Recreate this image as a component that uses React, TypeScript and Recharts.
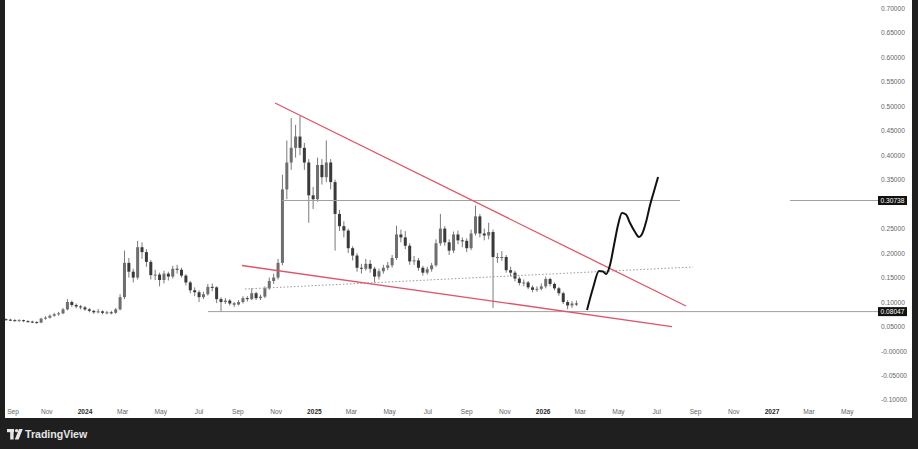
import React from "react";
import {
  Bar,
  ComposedChart,
  Line,
  ReferenceLine,
  XAxis,
  YAxis,
} from "recharts";

// weekly candles, first one opens the week of 2023-08-28
const firstWeek = "2023-08-28";
const firstOpen = 0.065;

const closes = [
  0.064, 0.063, 0.062, 0.063, 0.061, 0.06, 0.059, 0.058, 0.066, 0.068,
  0.072, 0.075, 0.077, 0.085, 0.1, 0.094, 0.091, 0.089, 0.085, 0.082,
  0.079, 0.081, 0.078, 0.079, 0.078, 0.085, 0.11, 0.18, 0.162, 0.15,
  0.212, 0.202, 0.182, 0.155, 0.156, 0.145, 0.158, 0.152, 0.168, 0.166,
  0.154, 0.14, 0.124, 0.12, 0.11, 0.116, 0.131, 0.13, 0.106, 0.1,
  0.103, 0.097, 0.095, 0.1, 0.108, 0.106, 0.118, 0.108, 0.111, 0.128,
  0.143, 0.15, 0.18, 0.33, 0.385, 0.415, 0.438, 0.415, 0.385, 0.318,
  0.31, 0.38, 0.355, 0.385, 0.345, 0.28, 0.255, 0.246, 0.21, 0.195,
  0.17, 0.168, 0.178, 0.168, 0.152, 0.163, 0.17, 0.175, 0.19, 0.238,
  0.232, 0.215, 0.183, 0.185, 0.17, 0.16, 0.167, 0.175, 0.22, 0.25,
  0.222, 0.205, 0.238, 0.226, 0.225, 0.21, 0.24, 0.275, 0.24, 0.236,
  0.243, 0.192, 0.192, 0.192, 0.165, 0.16, 0.148, 0.139, 0.14, 0.13,
  0.125, 0.127, 0.132, 0.147, 0.137, 0.128, 0.118, 0.1, 0.093, 0.097,
  0.096,
];

const highs = [
  0.067, 0.066, 0.065, 0.065, 0.064, 0.063, 0.062, 0.061, 0.068, 0.071,
  0.075, 0.078, 0.08, 0.088, 0.106, 0.103, 0.097, 0.094, 0.092, 0.088,
  0.084, 0.086, 0.083, 0.082, 0.082, 0.088, 0.116, 0.205, 0.19, 0.168,
  0.225, 0.222, 0.208, 0.186, 0.166, 0.16, 0.164, 0.162, 0.174, 0.176,
  0.17, 0.157, 0.143, 0.13, 0.124, 0.121, 0.137, 0.138, 0.132, 0.11,
  0.108, 0.106, 0.1, 0.104, 0.112, 0.112, 0.128, 0.121, 0.115, 0.132,
  0.15, 0.158, 0.188, 0.36, 0.43, 0.476, 0.462, 0.48, 0.425, 0.392,
  0.335, 0.395, 0.392, 0.43, 0.392, 0.35, 0.288, 0.265, 0.25, 0.214,
  0.2, 0.178, 0.188, 0.186, 0.172, 0.168, 0.176, 0.182, 0.196, 0.256,
  0.248, 0.245, 0.22, 0.194, 0.19, 0.174, 0.172, 0.18, 0.228, 0.28,
  0.255, 0.228, 0.244, 0.246, 0.232, 0.23, 0.248, 0.297, 0.28, 0.25,
  0.262, 0.248, 0.2, 0.204, 0.196, 0.172, 0.164, 0.152, 0.146, 0.143,
  0.134, 0.132, 0.138, 0.152, 0.15, 0.14, 0.131, 0.121, 0.104, 0.102,
  0.103,
];

const lows = [
  0.062, 0.061, 0.06, 0.06, 0.059, 0.058, 0.057, 0.056, 0.057, 0.064,
  0.066, 0.07, 0.072, 0.075, 0.083, 0.09, 0.087, 0.085, 0.082, 0.079,
  0.076, 0.077, 0.075, 0.075, 0.075, 0.076, 0.083, 0.106, 0.15, 0.14,
  0.146, 0.188, 0.172, 0.146, 0.145, 0.132, 0.138, 0.144, 0.148, 0.158,
  0.15, 0.134, 0.118, 0.112, 0.1, 0.106, 0.113, 0.122, 0.098, 0.08,
  0.096, 0.093, 0.09, 0.093, 0.097, 0.101, 0.104, 0.104, 0.104, 0.108,
  0.125, 0.137, 0.146, 0.175, 0.31, 0.37, 0.395, 0.4, 0.37, 0.262,
  0.29, 0.305, 0.34, 0.345, 0.33, 0.205, 0.245, 0.232, 0.2, 0.185,
  0.162, 0.158, 0.164, 0.16, 0.14, 0.146, 0.158, 0.165, 0.17, 0.186,
  0.222, 0.208, 0.176, 0.176, 0.164, 0.154, 0.156, 0.162, 0.172, 0.215,
  0.215, 0.196, 0.2, 0.218, 0.212, 0.202, 0.206, 0.236, 0.232, 0.226,
  0.228, 0.088, 0.18, 0.184, 0.16, 0.152, 0.142, 0.134, 0.132, 0.126,
  0.12, 0.121, 0.124, 0.128, 0.132, 0.124, 0.113, 0.096, 0.085, 0.088,
  0.092,
];

// drawings (x in days since 2024-01-01)
const upperTrendDays = [303.1, 958.8];
const upperTrendPrices = [0.5065, 0.0919];
const lowerTrendDays = [250.5, 936.5];
const lowerTrendPrices = [0.1746, 0.05];
const midTrendDays = [255.3, 970.0];
const midTrendPrices = [0.1266, 0.1716];

const resistance = 0.30738;
const resistanceSpans = [
  [314.3, 949.3],
  [1124.8, 1265.2],
];
const support = 0.08047;
const supportSpan = [196.2, 1265.2];

const projectionDays = [
  800.9, 810.5, 820.0, 826.4, 831.2, 837.6, 844.0, 850.4, 856.7, 863.1,
  869.5, 877.5, 883.9, 888.7, 895.1, 901.5, 907.9, 914.3,
];
const projectionPrices = [
  0.0837, 0.1287, 0.1634, 0.1624, 0.1573, 0.1757, 0.2165, 0.2574, 0.2819,
  0.2788, 0.2614, 0.2431, 0.2328, 0.239, 0.2635, 0.2982, 0.3268, 0.3554,
];

const timeTickDates = [
  "2023-09-01", "2023-11-01", "2024-01-01", "2024-03-01", "2024-05-01",
  "2024-07-01", "2024-09-01", "2024-11-01", "2025-01-01", "2025-03-01",
  "2025-05-01", "2025-07-01", "2025-09-01", "2025-11-01", "2026-01-01",
  "2026-03-01", "2026-05-01", "2026-07-01", "2026-09-01", "2026-11-01",
  "2027-01-01", "2027-03-01", "2027-05-01",
];
const timeTickLabels = [
  "Sep", "Nov", "2024", "Mar", "May", "Jul", "Sep", "Nov", "2025", "Mar",
  "May", "Jul", "Sep", "Nov", "2026", "Mar", "May", "Jul", "Sep", "Nov",
  "2027", "Mar", "May",
];

const priceTicks = [
  0.7, 0.65, 0.6, 0.55, 0.5, 0.45, 0.4, 0.35, 0.3, 0.25, 0.2, 0.15, 0.1,
  0.05, 0, -0.05, -0.1,
];
const priceTickLabels = [
  "0.70000", "0.65000", "0.60000", "0.55000", "0.50000", "0.45000",
  "0.40000", "0.35000", "0.30000", "0.25000", "0.20000", "0.15000",
  "0.10000", "0.05000", "-0.00000", "-0.05000", "-0.10000",
];
const badgeLevels = [resistance, support];
const badgeLabels = ["0.30738", "0.08047"];

const X_DOMAIN = [-127.6, 1239.6];
const Y_DOMAIN = [-0.1062, 0.7169];

const dayOf = (iso: string) => {
  const [y, m, d] = iso.split("-").map(Number);
  return (Date.UTC(y, m - 1, d) - Date.UTC(2024, 0, 1)) / 864e5;
};

const start = dayOf(firstWeek);
const candles = closes.map((close, i) => {
  const open = i === 0 ? firstOpen : closes[i - 1];
  return {
    day: start + i * 7,
    open,
    close,
    high: highs[i],
    low: lows[i],
    range: [lows[i], highs[i]],
  };
});

const projection = projectionDays.map((day, i) => ({
  day,
  price: projectionPrices[i],
}));

const timeTicks = timeTickDates.map(dayOf);

// a price label sitting under a badge is hidden, like on the original
const shownPriceTicks = priceTicks.filter(
  (p) => !badgeLevels.some((b) => Math.abs(b - p) < 0.01)
);

const FONT = "'Liberation Sans', Arial, sans-serif";

const Candle = (props: any) => {
  const { x, y, width, height, payload } = props;
  if (!payload || x == null) return null;
  const { open, close, high, low } = payload;
  const top = Math.min(y, y + height);
  const bottom = Math.max(y, y + height);
  const span = high - low;
  const toY = (v: number) =>
    span > 0 ? top + ((high - v) / span) * (bottom - top) : top;
  const cx = x + width / 2;
  const bTop = toY(Math.max(open, close));
  const bBot = toY(Math.min(open, close));
  const up = close >= open;
  return (
    <g>
      <line x1={cx} x2={cx} y1={top} y2={bottom} stroke="#7a7a7a" strokeWidth={1} />
      <rect
        x={x}
        y={bTop}
        width={width}
        height={Math.max(1, bBot - bTop)}
        fill={up ? "#6e6e6e" : "#3a3a3a"}
      />
    </g>
  );
};

const TimeTick = (props: any) => {
  const { x, y, payload } = props;
  const idx = timeTicks.indexOf(payload.value);
  const label = timeTickLabels[idx] ?? "";
  const isYear = /^\d{4}$/.test(label);
  return (
    <text
      x={Math.max(x, 8)}
      y={y + 8}
      textAnchor="middle"
      dominantBaseline="central"
      fontFamily={FONT}
      fontSize={6.6}
      fontWeight={isYear ? 700 : 400}
      fill={isYear ? "#2a2a2a" : "#666"}
    >
      {label}
    </text>
  );
};

const PriceTick = (props: any) => {
  const { x, y, payload } = props;
  const b = badgeLevels.indexOf(payload.value);
  if (b >= 0) {
    return (
      <g>
        <rect x={x + 16} y={y - 4.5} width={29} height={9} fill="#111" />
        <text
          x={x + 30.5}
          y={y}
          textAnchor="middle"
          dominantBaseline="central"
          fontFamily={FONT}
          fontSize={6.6}
          fill="#fff"
        >
          {badgeLabels[b]}
        </text>
      </g>
    );
  }
  const i = priceTicks.indexOf(payload.value);
  return (
    <text
      x={x + 19}
      y={y}
      textAnchor="start"
      dominantBaseline="central"
      fontFamily={FONT}
      fontSize={6.6}
      fill="#666"
    >
      {priceTickLabels[i]}
    </text>
  );
};

const TvLogo = () => (
  <svg width={90} height={20} style={{ position: "absolute", left: 5, top: 424 }}>
    <rect x={2} y={5} width={7} height={3.2} fill="#e6e6e6" />
    <rect x={5.2} y={5} width={3.4} height={10.5} fill="#e6e6e6" />
    <circle cx={11.6} cy={6.6} r={1.7} fill="#e6e6e6" />
    <polygon points="14,5 17.8,5 13.6,15.5 9.8,15.5" fill="#e6e6e6" />
    <text
      x={20}
      y={10.4}
      dominantBaseline="central"
      fontFamily={FONT}
      fontWeight={700}
      fontSize={10.6}
      fill="#e6e6e6"
    >
      TradingView
    </text>
  </svg>
);

export default function App() {
  return (
    <div
      style={{
        position: "fixed",
        left: 0,
        top: 0,
        width: 918,
        height: 449,
        background: "#1f1f1f",
        overflow: "hidden",
      }}
    >
      <div
        style={{
          position: "absolute",
          left: 5,
          top: 0,
          width: 907,
          height: 418,
          background: "#ffffff",
        }}
      >
        <ComposedChart
          width={907}
          height={418}
          data={candles}
          margin={{ top: 0, right: 0, bottom: 0, left: 0 }}
        >
          <XAxis
            dataKey="day"
            type="number"
            domain={X_DOMAIN}
            allowDataOverflow
            ticks={timeTicks}
            interval={0}
            height={15}
            axisLine={false}
            tickLine={false}
            tickSize={0}
            tickMargin={0}
            tick={<TimeTick />}
          />
          <YAxis
            orientation="right"
            type="number"
            domain={Y_DOMAIN}
            allowDataOverflow
            ticks={[...shownPriceTicks, ...badgeLevels]}
            interval={0}
            width={50}
            axisLine={false}
            tickLine={false}
            tickSize={0}
            tickMargin={0}
            tick={<PriceTick />}
          />
          <ReferenceLine
            segment={[
              { x: supportSpan[0], y: support },
              { x: supportSpan[1], y: support },
            ]}
            stroke="#a0a0a0"
            strokeWidth={1}
            ifOverflow="visible"
          />
          {resistanceSpans.map((s, i) => (
            <ReferenceLine
              key={i}
              segment={[
                { x: s[0], y: resistance },
                { x: s[1], y: resistance },
              ]}
              stroke="#a0a0a0"
              strokeWidth={1}
              ifOverflow="visible"
            />
          ))}
          <ReferenceLine
            segment={[
              { x: midTrendDays[0], y: midTrendPrices[0] },
              { x: midTrendDays[1], y: midTrendPrices[1] },
            ]}
            stroke="#9a9a9a"
            strokeWidth={1}
            strokeDasharray="1.5 2"
            ifOverflow="visible"
          />
          <Bar
            dataKey="range"
            barSize={3}
            shape={<Candle />}
            isAnimationActive={false}
          />
          <ReferenceLine
            segment={[
              { x: upperTrendDays[0], y: upperTrendPrices[0] },
              { x: upperTrendDays[1], y: upperTrendPrices[1] },
            ]}
            stroke="#e05468"
            strokeWidth={1.3}
            ifOverflow="visible"
          />
          <ReferenceLine
            segment={[
              { x: lowerTrendDays[0], y: lowerTrendPrices[0] },
              { x: lowerTrendDays[1], y: lowerTrendPrices[1] },
            ]}
            stroke="#e05468"
            strokeWidth={1.3}
            ifOverflow="visible"
          />
          <Line
            data={projection}
            dataKey="price"
            type="monotone"
            stroke="#111"
            strokeWidth={2}
            dot={false}
            activeDot={false}
            isAnimationActive={false}
          />
        </ComposedChart>
      </div>
      <TvLogo />
    </div>
  );
}
